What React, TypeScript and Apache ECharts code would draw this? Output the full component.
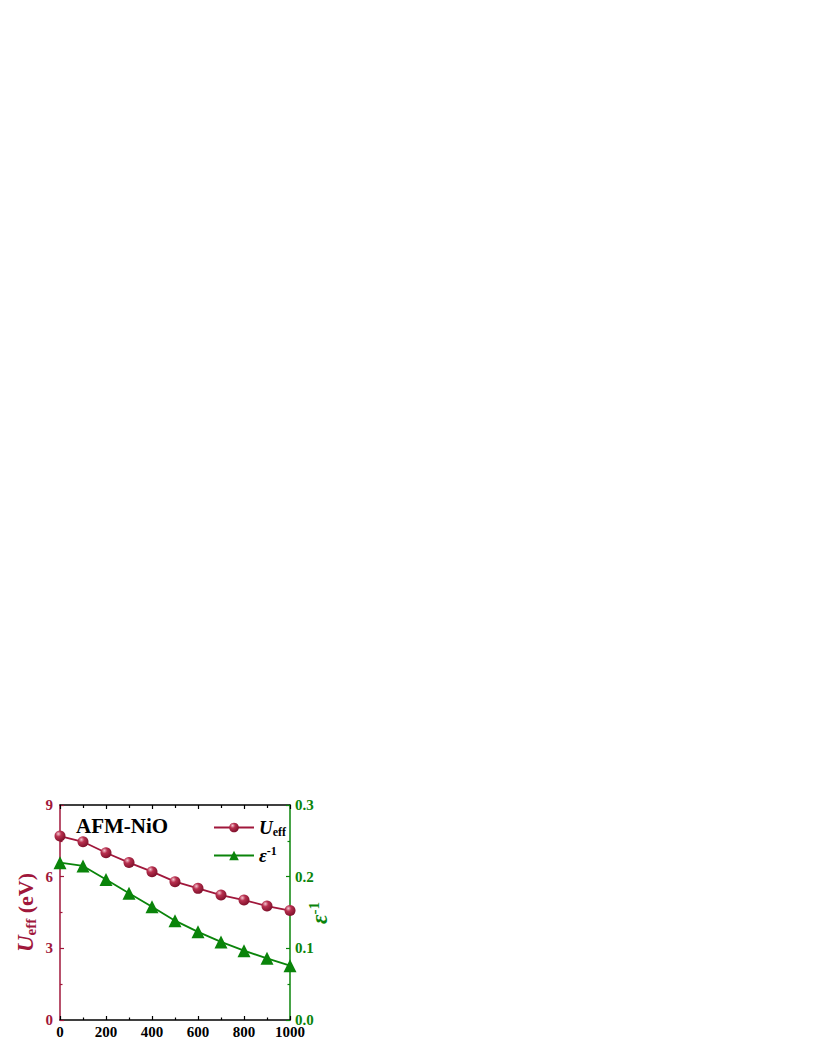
import React, { useEffect, useRef } from "react";
import * as echarts from "echarts";

const temps = [0, 100, 200, 300, 400, 500, 600, 700, 800, 900, 1000];
const uEff = [7.7, 7.46, 7.0, 6.59, 6.21, 5.79, 5.51, 5.23, 5.02, 4.77, 4.58];
const epsInv = [0.2195, 0.215, 0.196, 0.177, 0.158, 0.1386, 0.123, 0.109, 0.0967, 0.086, 0.0758];

const RED = "#A0173B";
const GREEN = "#0A840A";
const FONT = "Liberation Serif";

export default function App() {
  const ref = useRef<HTMLDivElement>(null);
  useEffect(() => {
    if (!ref.current) return;
    const chart = echarts.init(ref.current, undefined, { renderer: "svg" });
    const uData = temps.map((t, i) => [t, uEff[i]]);
    const eData = temps.map((t, i) => [t, epsInv[i]]);
    const sphere = new echarts.graphic.RadialGradient(0.35, 0.3, 0.75, [
      { offset: 0, color: "#F4C6D0" },
      { offset: 0.35, color: "#B8304F" },
      { offset: 1, color: "#7A0E28" },
    ]);
    chart.setOption({
      animation: false,
      textStyle: { fontFamily: FONT },
      grid: { left: 60, top: 805, width: 230, height: 215 },
      graphic: [
        {
          type: "text",
          left: 76,
          top: 815,
          style: { text: "AFM-NiO", font: `bold 21px ${FONT}`, fill: "#000" },
        },
        {
          type: "text",
          x: 319,
          y: 913,
          rotation: Math.PI / 2,
          style: {
            text: "{i|ε}{sup|-1}",
            align: "center",
            verticalAlign: "middle",
            rich: {
              i: { fontSize: 23, fontWeight: "bold", fontStyle: "italic", fontFamily: FONT, fill: GREEN, color: GREEN },
              sup: { fontSize: 15, fontWeight: "bold", fontFamily: FONT, fill: GREEN, color: GREEN, verticalAlign: "top", padding: [0, 0, 10, 0] },
            },
          },
        },
      ],
      legend: {
        left: 208,
        top: 813,
        orient: "vertical",
        itemWidth: 40,
        itemHeight: 12,
        itemGap: 7,
        data: ["U", "E"],
        formatter: (name: string) => (name === "U" ? "{i|U}{sub|eff}" : "{i|ε}{sup|-1}"),
        textStyle: {
          fontFamily: FONT,
          rich: {
            i: { fontSize: 19, fontWeight: "bold", fontStyle: "italic", fontFamily: FONT, color: "#000" },
            sub: { fontSize: 12, fontWeight: "bold", fontFamily: FONT, color: "#000", verticalAlign: "bottom", padding: [9, 0, 0, 0] },
            sup: { fontSize: 12, fontWeight: "bold", fontFamily: FONT, color: "#000", verticalAlign: "top", padding: [0, 0, 9, 0] },
          },
        },
      },
      xAxis: [
        {
          type: "value",
          min: 0,
          max: 1000,
          interval: 200,
          position: "bottom",
          axisLine: { onZero: false, lineStyle: { color: "#000", width: 1.5 } },
          axisTick: { inside: true, length: 4, lineStyle: { color: "#000", width: 1.2 } },
          minorTick: { show: true, splitNumber: 2, length: 2.5, lineStyle: { color: "#000", width: 1.2 } },
          axisLabel: {
            color: "#000",
            fontSize: 15,
            fontWeight: "bold",
            fontFamily: FONT,
            margin: 4,
            formatter: (v: number) => String(v),
          },
          splitLine: { show: false },
        },
        {
          type: "value",
          min: 0,
          max: 1000,
          interval: 200,
          position: "top",
          axisLine: { onZero: false, lineStyle: { color: "#000", width: 1.5 } },
          axisTick: { inside: true, length: 4, lineStyle: { color: "#000", width: 1.2 } },
          minorTick: { show: true, splitNumber: 2, length: 3, lineStyle: { color: "#000", width: 1.2 } },
          axisLabel: { show: false },
          splitLine: { show: false },
        },
      ],
      yAxis: [
        {
          type: "value",
          min: 0,
          max: 9,
          interval: 3,
          position: "left",
          name: "{i|U}{sub|eff}{n| (eV)}",
          nameLocation: "middle",
          nameRotate: 90,
          nameGap: 22,
          nameTextStyle: {
            rich: {
              i: { fontSize: 23, fontWeight: "bold", fontStyle: "italic", fontFamily: FONT, color: RED },
              sub: { fontSize: 15, fontWeight: "bold", fontFamily: FONT, color: RED, verticalAlign: "bottom", padding: [10, 0, 0, 0] },
              n: { fontSize: 22, fontWeight: "bold", fontFamily: FONT, color: RED },
            },
          },
          axisLine: { show: true, onZero: false, lineStyle: { color: RED, width: 1.5 } },
          axisTick: { show: true, inside: true, length: 4, lineStyle: { color: RED, width: 1.2 } },
          minorTick: { show: true, splitNumber: 2, length: 2.5, lineStyle: { color: RED, width: 1.2 } },
          axisLabel: { color: RED, fontSize: 15, fontWeight: "bold", fontFamily: FONT, margin: 7 },
          splitLine: { show: false },
        },
        {
          type: "value",
          min: 0,
          max: 0.3,
          interval: 0.1,
          position: "right",
          axisLine: { show: true, onZero: false, lineStyle: { color: GREEN, width: 1.5 } },
          axisTick: { show: true, inside: true, length: 4, lineStyle: { color: GREEN, width: 1.2 } },
          minorTick: { show: true, splitNumber: 2, length: 2.5, lineStyle: { color: GREEN, width: 1.2 } },
          axisLabel: {
            color: GREEN,
            fontSize: 15,
            fontWeight: "bold",
            fontFamily: FONT,
            margin: 5,
            formatter: (v: number) => v.toFixed(1),
          },
          splitLine: { show: false },
        },
      ],
      series: [
        {
          name: "U",
          type: "line",
          xAxisIndex: 0,
          yAxisIndex: 0,
          data: uData,
          symbol: "circle",
          symbolSize: 11,
          lineStyle: { color: RED, width: 1.8 },
          itemStyle: { color: sphere, borderWidth: 0 },
          z: 3,
        },
        {
          name: "E",
          type: "line",
          xAxisIndex: 0,
          yAxisIndex: 1,
          data: eData,
          symbol: "triangle",
          symbolSize: 13,
          lineStyle: { color: GREEN, width: 1.8 },
          itemStyle: { color: GREEN, borderWidth: 0 },
          z: 2,
        },
      ],
    });
    return () => chart.dispose();
  }, []);
  return (
    <div
      ref={ref}
      style={{ position: "absolute", left: 0, top: 0, width: 814, height: 1053 }}
    />
  );
}
